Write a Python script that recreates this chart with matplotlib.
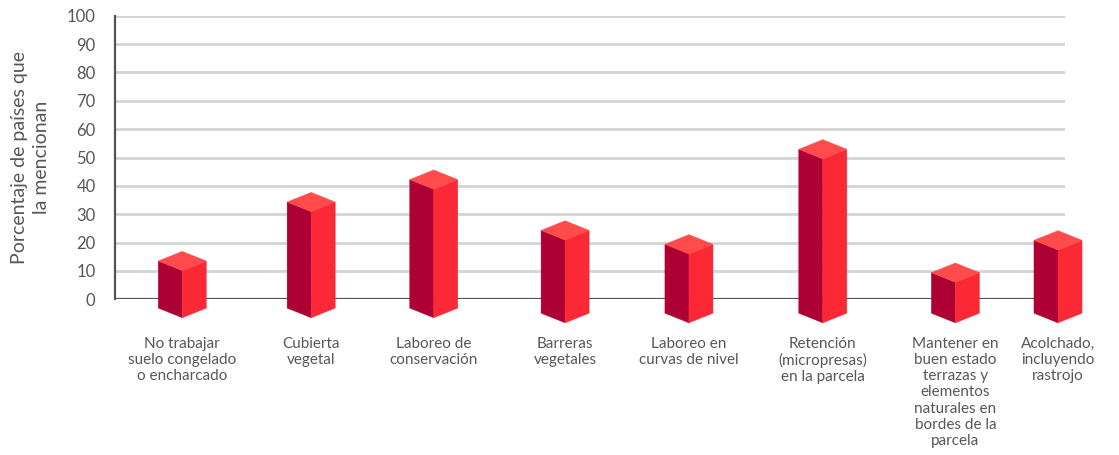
import matplotlib
matplotlib.use("Agg")
from matplotlib import pyplot as plt
from matplotlib.patches import Polygon

# data (top-face centre of each prism)
categories = [
    "No trabajar\nsuelo congelado\no encharcado",
    "Cubierta\nvegetal",
    "Laboreo de\nconservación",
    "Barreras\nvegetales",
    "Laboreo en\ncurvas de nivel",
    "Retención\n(micropresas)\nen la parcela",
    "Mantener en\nbuen estado\nterrazas y\nelementos\nnaturales en\nbordes de la\nparcela",
    "Acolchado,\nincluyendo\nrastrojo",
]
values = [13.5, 34.3, 42.2, 24.3, 19.4, 52.9, 9.4, 20.8]
y_ticks = [0, 10, 20, 30, 40, 50, 60, 70, 80, 90, 100]

# layout (category slot positions and prism bottoms)
x_pos = [0, 1.03, 2.01, 3.06, 4.05, 5.12, 6.18, 7.0]
bases = [-3.1, -3.1, -3.1, -4.9, -4.9, -4.9, -4.9, -4.9]
half_w = 0.192
depth = 3.4

col_left = "#ad0033"
col_right = "#fb2936"
col_top = "#ff4b4b"
text_col = "#575757"

plt.rcParams["font.family"] = ["Lato", "DejaVu Sans"]

fig = plt.figure(figsize=(11.19, 4.55), dpi=100)
ax = fig.add_axes([115 / 1119, 155.7 / 455, 950 / 1119, 283.6 / 455])
ax.set_xlim(-0.538, 7.056)
ax.set_ylim(0, 100)

# grid
for t in y_ticks[1:]:
    ax.axhline(t, color="#d4d4d4", lw=2, zorder=1)
ax.axhline(0, color="#555555", lw=1.6, zorder=2)

# 3D-looking prisms
for cx, v, b in zip(x_pos, values, bases):
    left = [(cx - half_w, b), (cx - half_w, v), (cx, v - depth), (cx, b - depth)]
    right = [(cx, b - depth), (cx, v - depth), (cx + half_w, v), (cx + half_w, b)]
    top = [(cx - half_w, v), (cx, v + depth), (cx + half_w, v), (cx, v - depth)]
    for pts, c in ((left, col_left), (right, col_right), (top, col_top)):
        ax.add_patch(Polygon(pts, closed=True, facecolor=c, edgecolor=c,
                             lw=0.3, zorder=3, clip_on=False))

# category labels under the prisms
for cx, lab in zip(x_pos, categories):
    ax.text(cx, -0.132, lab, transform=ax.get_xaxis_transform(),
            ha="center", va="top", fontsize=11, color=text_col,
            linespacing=1.2)

ax.set_xticks([])
ax.set_yticks(y_ticks)
ax.tick_params(axis="y", length=0, pad=14, labelsize=12, labelcolor=text_col)
for s in ("top", "right", "bottom"):
    ax.spines[s].set_visible(False)
ax.spines["left"].set_color("#555555")
ax.spines["left"].set_linewidth(1.6)
ax.spines["left"].set_zorder(2)

ax.set_ylabel("Porcentaje de países que\nla mencionan", fontsize=14,
              color=text_col, linespacing=1.4)
ax.yaxis.set_label_coords(-0.068, 0.5)

fig.savefig("out.png", dpi=100)
